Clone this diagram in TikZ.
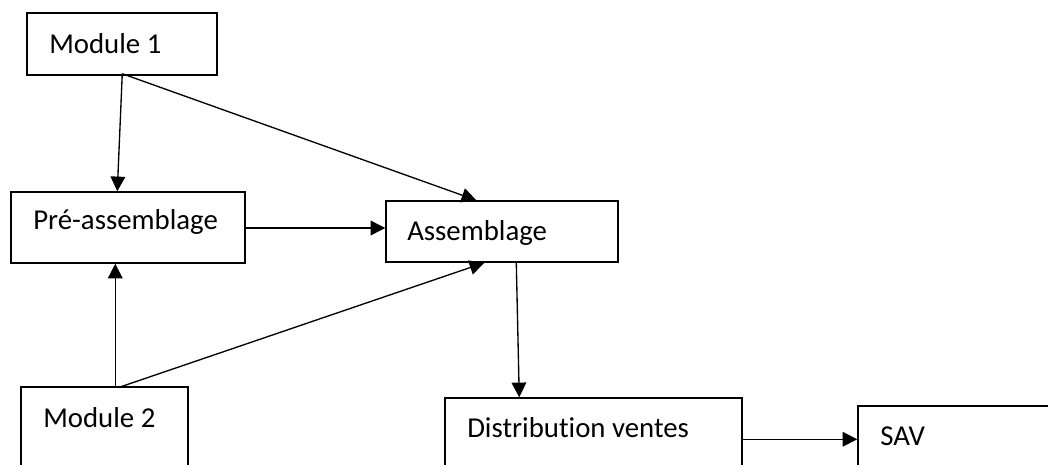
\documentclass[tikz,border=0pt]{standalone}
\usepackage{fontspec}
\setmainfont[Ligatures=NoCommon]{Carlito}
\usetikzlibrary{arrows.meta,calc}
\begin{document}
\begin{tikzpicture}[x=0.75pt,y=-0.75pt,
  box/.style={draw=black,line width=1.1pt,rectangle,inner sep=0pt},
  txt/.style={anchor=west,inner sep=0pt,font=\fontsize{21.6pt}{24pt}\selectfont},
  arr/.style={draw=black,line width=1pt,-{Triangle[length=11pt,width=11pt]}}]
\useasboundingbox (0,0) rectangle (1048,464);
\clip (0,0) rectangle (1048,464);
% boxes
\node[box,minimum width=190*0.75pt,minimum height=62*0.75pt] (m1) at (122,44) {};
\node[box,minimum width=234*0.75pt,minimum height=71*0.75pt] (pre) at (128,227.5) {};
\node[box,minimum width=232*0.75pt,minimum height=61*0.75pt] (asm) at (502,231.5) {};
\node[box,minimum width=167*0.75pt,minimum height=110*0.75pt] (m2) at (104.5,442) {};
\node[box,minimum width=297*0.75pt,minimum height=100*0.75pt] (dist) at (593.5,448) {};
\node[box,minimum width=210*0.75pt,minimum height=100*0.75pt] (sav) at (963,456) {};
% texts
\node[txt] (t1) at (49,44) {Module 1};
\node[txt] (t2) at (33,222) {Pré-assemblage};
\node[txt] (t3) at (407,233) {Assemblage};
\node[txt] (t4) at (43,418) {Module 2};
\node[txt] (t5) at (467,428) {Distribution ventes};
\node[txt] (t6) at (880,436) {SAV};
% connectors
\draw[arr] ($(m1.south west)+(96,-2)$) -- ($(pre.north west)+(107,0)$);
\draw[arr] ($(m1.south west)+(96,-2)$) -- ($(asm.north west)+(91,0)$);
\draw[arr] ($(pre.east)+(-2,0.5)$) -- ($(pre.east -| asm.west)+(0,0.5)$);
\draw[arr] ($(m2.north west)+(95,1)$) -- ($(pre.south west)+(105,0)$);
\draw[arr] ($(m2.north west)+(99,1)$) -- ($(asm.south west)+(99,0)$);
\draw[arr] ($(asm.south west)+(131,-1)$) -- ($(dist.north west)+(75,0)$);
\draw[arr] ($(dist.north east)+(-2,42)$) -- ($(dist.north east -| sav.west)+(0,42)$);
\end{tikzpicture}
\end{document}
